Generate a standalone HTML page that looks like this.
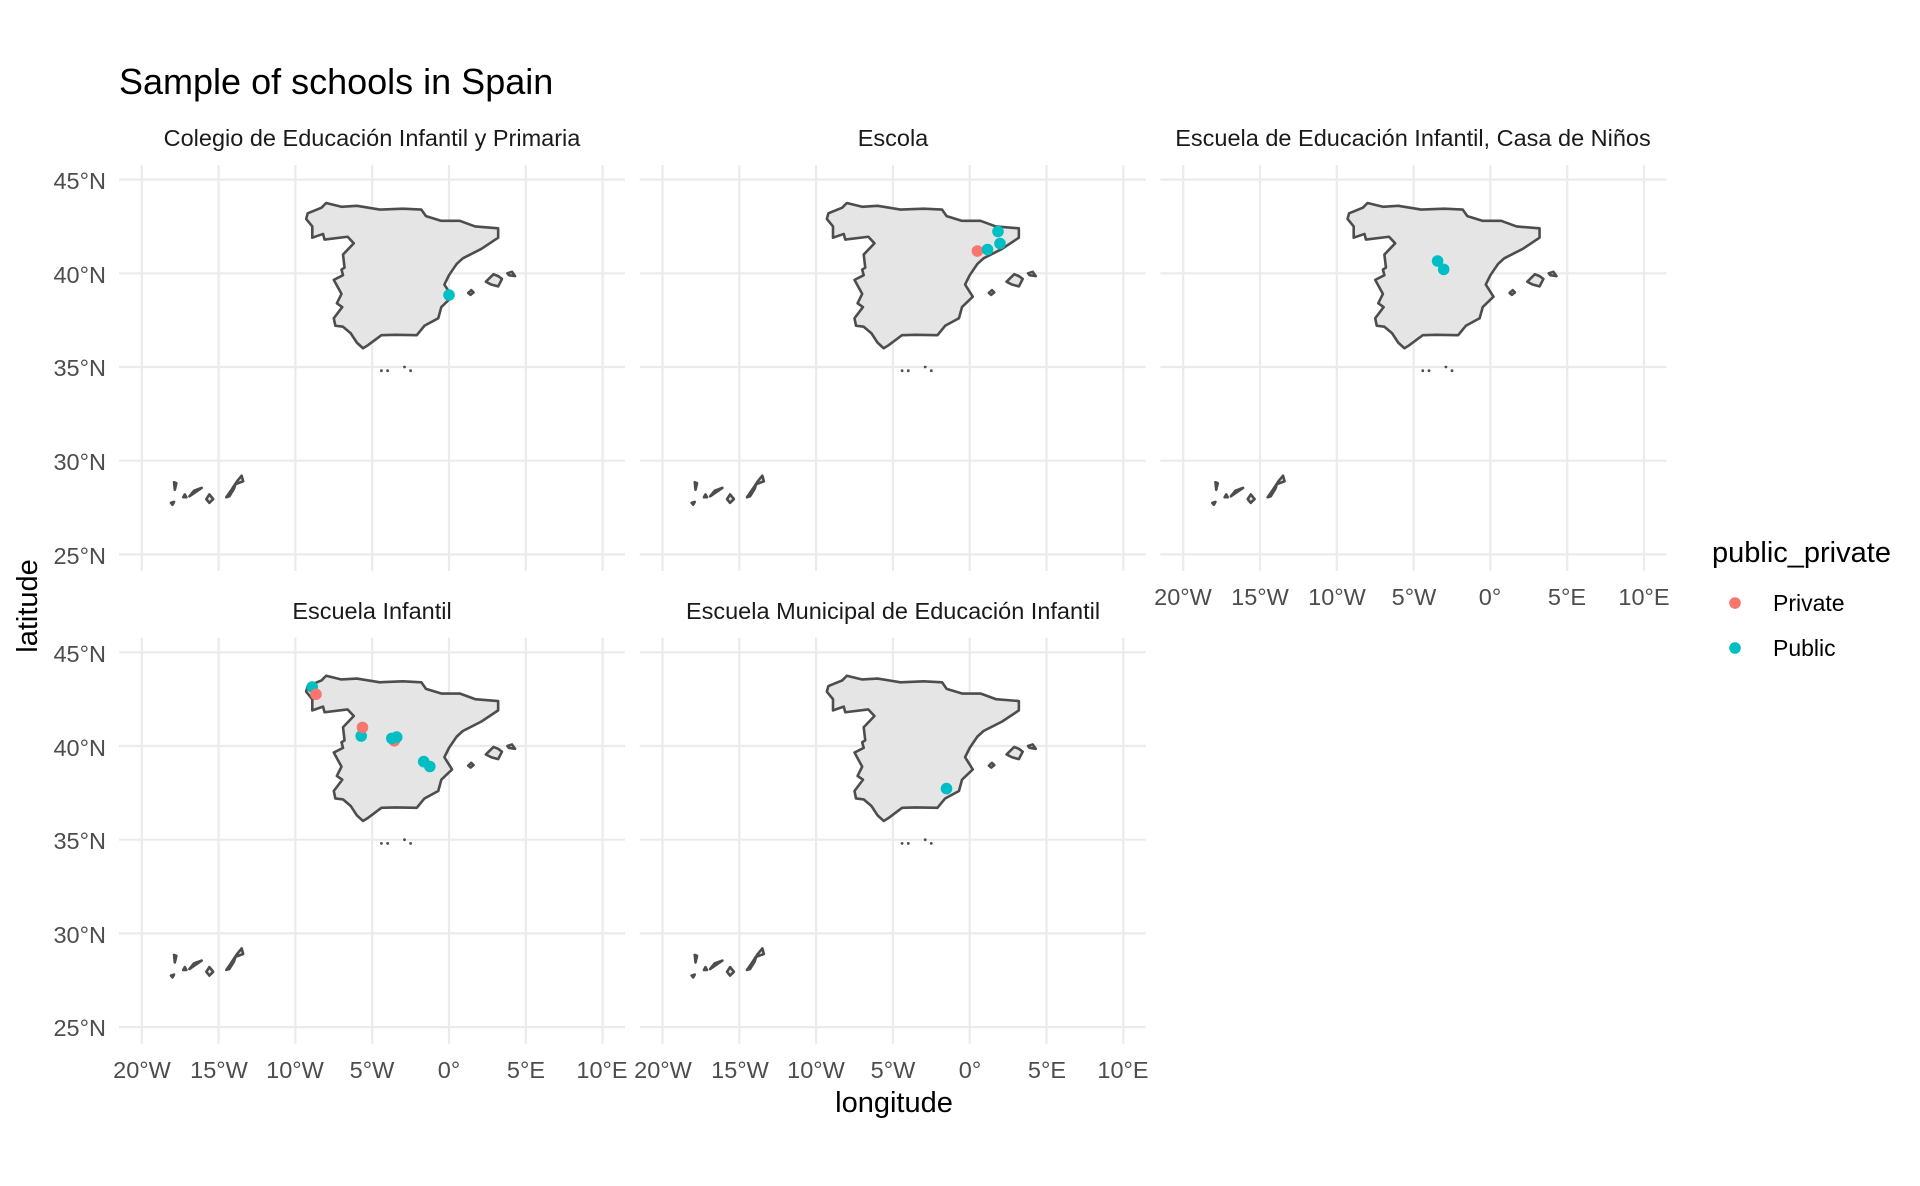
<!DOCTYPE html>
<html><head><meta charset="utf-8"><style>
html,body{margin:0;padding:0;background:#fff}
svg{display:block;font-family:"Liberation Sans",sans-serif}
.yl{font-size:23.5px;fill:#4d4d4d;text-anchor:end;dominant-baseline:central}
.xl{font-size:23.5px;fill:#4d4d4d;text-anchor:middle}
.st{font-size:23.5px;fill:#1a1a1a;text-anchor:middle}
</style></head><body>
<svg width="1920" height="1186" viewBox="0 0 1920 1186" xmlns="http://www.w3.org/2000/svg">
<defs>
<g id="panel">
 <g stroke="#ebebeb" stroke-width="2.2">
  <line x1="-307.2" y1="-202" x2="-307.2" y2="204"/>
  <line x1="-230.4" y1="-202" x2="-230.4" y2="204"/>
  <line x1="-153.6" y1="-202" x2="-153.6" y2="204"/>
  <line x1="-76.8" y1="-202" x2="-76.8" y2="204"/>
  <line x1="0" y1="-202" x2="0" y2="204"/>
  <line x1="76.8" y1="-202" x2="76.8" y2="204"/>
  <line x1="153.6" y1="-202" x2="153.6" y2="204"/>
  <line x1="-330" y1="-187.4" x2="176" y2="-187.4"/>
  <line x1="-330" y1="-93.7" x2="176" y2="-93.7"/>
  <line x1="-330" y1="0" x2="176" y2="0"/>
  <line x1="-330" y1="93.7" x2="176" y2="93.7"/>
  <line x1="-330" y1="187.4" x2="176" y2="187.4"/>
 </g>
 <g transform="scale(15.36,-18.74) translate(0,-35)" fill="#e5e5e5" stroke="#4d4d4d" stroke-width="2.6" stroke-linejoin="round">
  <path vector-effect="non-scaling-stroke" d="M-8.9,41.9 L-8.2,42.1 L-8.1,41.8 L-6.6,41.95 L-6.2,41.6 L-6.9,41.0 L-6.8,40.3 L-7.0,40.2 L-6.9,39.9 L-7.5,39.65 L-7.2,39.2 L-7.0,38.9 L-7.3,38.4 L-6.95,38.2 L-7.5,37.6 L-7.4,37.2 L-6.9,37.15 L-6.4,36.8 L-6.0,36.3 L-5.6,36.0 L-5.3,36.15 L-4.4,36.7 L-3.5,36.72 L-2.1,36.7 L-1.6,37.2 L-0.7,37.6 L-0.5,38.2 L0.2,38.75 L-0.3,39.4 L0.0,39.9 L0.5,40.5 L0.9,40.8 L2.1,41.3 L3.2,41.9 L3.2,42.4 L1.7,42.5 L0.7,42.8 L-0.5,42.8 L-1.5,43.05 L-1.8,43.4 L-3.0,43.45 L-4.5,43.4 L-6.0,43.6 L-7.0,43.55 L-8.0,43.75 L-8.3,43.5 L-9.2,43.2 L-9.3,42.9 L-8.9,42.5 Z"/>
  <path vector-effect="non-scaling-stroke" d="M2.4,39.55 L2.9,39.95 L3.2,39.85 L3.45,39.7 L3.2,39.3 L2.75,39.4 Z"/>
  <path vector-effect="non-scaling-stroke" d="M3.8,40.0 L4.1,40.08 L4.3,39.85 L3.9,39.9 Z"/>
  <path vector-effect="non-scaling-stroke" d="M1.25,38.95 L1.45,39.1 L1.6,38.98 L1.4,38.85 Z"/>
  <path vector-effect="non-scaling-stroke" d="M-13.5,29.2 L-13.4,28.9 L-13.9,28.75 L-14.0,28.5 L-14.3,28.1 L-14.5,28.05 L-14.2,28.4 L-13.8,28.9 Z"/>
  <path vector-effect="non-scaling-stroke" d="M-15.6,28.2 L-15.35,27.95 L-15.6,27.75 L-15.8,27.95 Z"/>
  <path vector-effect="non-scaling-stroke" d="M-16.1,28.55 L-16.9,28.1 L-16.6,28.4 Z"/>
  <path vector-effect="non-scaling-stroke" d="M-17.2,28.2 L-17.1,28.05 L-17.3,28.05 Z"/>
  <path vector-effect="non-scaling-stroke" d="M-17.9,28.85 L-17.75,28.8 L-17.85,28.45 Z"/>
  <path vector-effect="non-scaling-stroke" d="M-18.1,27.75 L-17.9,27.8 L-18.0,27.65 Z"/>
 </g>
 <g fill="#4d4d4d">
  <circle cx="-67.6" cy="3.7" r="1.4"/><circle cx="-61.4" cy="3.7" r="1.4"/>
  <circle cx="-44.5" cy="0" r="1.4"/><circle cx="-38.4" cy="3.7" r="1.4"/>
 </g>
</g>
</defs>
<text x="119" y="94" font-size="36" fill="#000">Sample of schools in Spain</text>

<use href="#panel" x="449" y="367"/>
<use href="#panel" x="969.7" y="367"/>
<use href="#panel" x="1490.4" y="367"/>
<use href="#panel" x="449" y="839.7"/>
<use href="#panel" x="969.7" y="839.7"/>

<text class="st" x="372" y="146">Colegio de Educación Infantil y Primaria</text>
<text class="st" x="893" y="146">Escola</text>
<text class="st" x="1413" y="146">Escuela de Educación Infantil, Casa de Niños</text>
<text class="st" x="372" y="619">Escuela Infantil</text>
<text class="st" x="893" y="619">Escuela Municipal de Educación Infantil</text>

<g>
<text class="yl" x="106" y="181">45°N</text><text class="yl" x="106" y="275">40°N</text><text class="yl" x="106" y="368">35°N</text><text class="yl" x="106" y="462">30°N</text><text class="yl" x="106" y="556">25°N</text>
<text class="yl" x="106" y="654">45°N</text><text class="yl" x="106" y="748">40°N</text><text class="yl" x="106" y="841">35°N</text><text class="yl" x="106" y="935">30°N</text><text class="yl" x="106" y="1028">25°N</text>
</g>
<g>
<text class="xl" x="142" y="1078">20°W</text><text class="xl" x="219" y="1078">15°W</text><text class="xl" x="295" y="1078">10°W</text><text class="xl" x="372" y="1078">5°W</text><text class="xl" x="449" y="1078">0°</text><text class="xl" x="526" y="1078">5°E</text><text class="xl" x="602" y="1078">10°E</text>
<text class="xl" x="663" y="1078">20°W</text><text class="xl" x="740" y="1078">15°W</text><text class="xl" x="816" y="1078">10°W</text><text class="xl" x="893" y="1078">5°W</text><text class="xl" x="970" y="1078">0°</text><text class="xl" x="1047" y="1078">5°E</text><text class="xl" x="1123" y="1078">10°E</text>
<text class="xl" x="1183" y="605">20°W</text><text class="xl" x="1260" y="605">15°W</text><text class="xl" x="1337" y="605">10°W</text><text class="xl" x="1414" y="605">5°W</text><text class="xl" x="1490" y="605">0°</text><text class="xl" x="1567" y="605">5°E</text><text class="xl" x="1644" y="605">10°E</text>
</g>
<text x="894" y="1112" font-size="29" text-anchor="middle" fill="#000">longitude</text>
<text transform="translate(37,606) rotate(-90)" font-size="29" text-anchor="middle" fill="#000">latitude</text>

<g>
<circle cx="449" cy="295" r="5.8" fill="#00BFC4"/>
<circle cx="977.4" cy="251" r="5.8" fill="#F8766D"/>
<circle cx="987.5" cy="249.5" r="5.8" fill="#00BFC4"/>
<circle cx="998" cy="231.5" r="5.8" fill="#00BFC4"/>
<circle cx="1000" cy="243.5" r="5.8" fill="#00BFC4"/>
<circle cx="1437.6" cy="261" r="5.8" fill="#00BFC4"/>
<circle cx="1443.7" cy="269.4" r="5.8" fill="#00BFC4"/>
<circle cx="312.2" cy="687" r="5.8" fill="#00BFC4"/>
<circle cx="316" cy="694.3" r="5.8" fill="#F8766D"/>
<circle cx="361.2" cy="736" r="5.8" fill="#00BFC4"/>
<circle cx="362.5" cy="727.4" r="5.8" fill="#F8766D"/>
<circle cx="394.3" cy="740.8" r="5.8" fill="#F8766D"/>
<circle cx="391.8" cy="738.4" r="5.8" fill="#00BFC4"/>
<circle cx="396.7" cy="737.1" r="5.8" fill="#00BFC4"/>
<circle cx="423.7" cy="761.6" r="5.8" fill="#00BFC4"/>
<circle cx="429.8" cy="766.5" r="5.8" fill="#00BFC4"/>
<circle cx="946.5" cy="788.6" r="5.8" fill="#00BFC4"/>
</g>

<text x="1712" y="562" font-size="29" fill="#000">public_private</text>
<circle cx="1735" cy="603" r="5.8" fill="#F8766D"/>
<circle cx="1735" cy="648" r="5.8" fill="#00BFC4"/>
<text x="1773" y="611" font-size="23" fill="#000">Private</text>
<text x="1773" y="656" font-size="23" fill="#000">Public</text>
</svg>
</body></html>
